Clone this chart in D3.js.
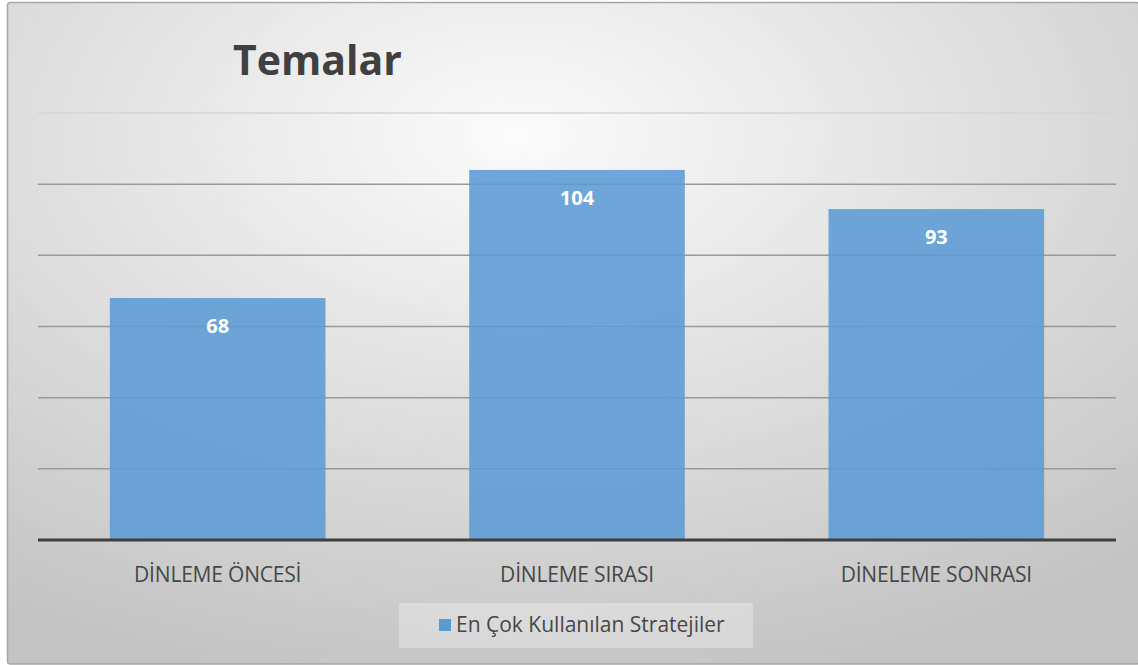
<!DOCTYPE html>
<html>
<head>
<meta charset="utf-8">
<script src="https://cdn.jsdelivr.net/npm/d3@7"></script>
<style>
  body { margin: 0; background: #fff; }
  svg { display: block; }
  text { font-family: "Open Sans", "Noto Sans", sans-serif; }
</style>
</head>
<body>
<svg id="chart" width="1138" height="665"></svg>
<script>
var categories = ['DİNLEME ÖNCESİ', 'DİNLEME SIRASI', 'DİNELEME SONRASI'],
    values = [68, 104, 93],
    yTicks = [0, 20, 40, 60, 80, 100, 120],
    seriesName = 'En Çok Kullanılan Stratejiler',
    title = 'Temalar';

var W = 1138, H = 665,
    margin = { left: 38, right: 22, top: 113, bottom: 125 },
    BAR_COLOR = '#5b9bd5';

var svg = d3.select('#chart');

// background, radial like the office chart style
var defs = svg.append('defs'),
    grad = defs.append('radialGradient')
      .attr('id', 'bg')
      .attr('cx', '45%').attr('cy', '20%').attr('r', '85%');
grad.append('stop').attr('offset', '0%').attr('stop-color', '#fbfbfb');
grad.append('stop').attr('offset', '100%').attr('stop-color', '#c3c3c3');

svg.append('rect')
  .attr('x', 7.5).attr('y', 2.5)
  .attr('width', W - 6).attr('height', H - 3.5)
  .attr('rx', 3)
  .attr('fill', 'url(#bg)')
  .attr('stroke', '#a6a6a6')
  .attr('stroke-width', 1.5);

var x = d3.scaleBand()
      .domain(categories)
      .range([margin.left, W - margin.right])
      .paddingInner(0.4)
      .paddingOuter(0.2),

    y = d3.scaleLinear()
      .domain([0, 120])
      .range([H - margin.bottom, margin.top]);

// gridlines
svg.append('g')
  .selectAll('line')
  .data(yTicks.slice(1))
  .enter().append('line')
    .attr('x1', margin.left)
    .attr('x2', W - margin.right)
    .attr('y1', function(d) { return y(d); })
    .attr('y2', function(d) { return y(d); })
    .attr('stroke', function(d) { return d === 120 ? '#d4d4d4' : '#9a9a9a'; })
    .attr('stroke-width', 1.5);

// bars (a bit see-through, gridlines show faintly)
svg.append('g')
  .selectAll('rect')
  .data(values)
  .enter().append('rect')
    .attr('x', function(d, i) { return x(categories[i]); })
    .attr('y', function(d) { return y(d); })
    .attr('width', x.bandwidth())
    .attr('height', function(d) { return y(0) - y(d); })
    .attr('fill', BAR_COLOR)
    .attr('fill-opacity', 0.88);

// baseline
svg.append('line')
  .attr('x1', margin.left)
  .attr('x2', W - margin.right)
  .attr('y1', y(0))
  .attr('y2', y(0))
  .attr('stroke', '#3f3f3f')
  .attr('stroke-width', 3);

// value labels
svg.append('g')
  .selectAll('text')
  .data(values)
  .enter().append('text')
    .attr('x', function(d, i) { return x(categories[i]) + x.bandwidth() / 2; })
    .attr('y', function(d) { return y(d) + 35; })
    .attr('text-anchor', 'middle')
    .attr('font-size', 20)
    .attr('font-weight', 'bold')
    .attr('fill', '#ffffff')
    .text(function(d) { return d; });

// category labels
svg.append('g')
  .selectAll('text')
  .data(categories)
  .enter().append('text')
    .attr('x', function(d) { return x(d) + x.bandwidth() / 2; })
    .attr('y', y(0) + 42)
    .attr('text-anchor', 'middle')
    .attr('font-size', 21)
    .attr('fill', '#474747')
    .attr('letter-spacing', -0.2)
    .text(function(d) { return d; });

// title
svg.append('text')
  .attr('x', 233)
  .attr('y', 75)
  .attr('font-size', 41)
  .attr('font-weight', 'bold')
  .attr('fill', '#404040')
  .text(title);

// legend
var legend = svg.append('g').attr('transform', 'translate(399,603)');
legend.append('rect')
  .attr('width', 354).attr('height', 45)
  .attr('fill', '#ffffff').attr('fill-opacity', 0.3);
legend.append('rect')
  .attr('x', 40).attr('y', 16)
  .attr('width', 12).attr('height', 12)
  .attr('fill', BAR_COLOR);
legend.append('text')
  .attr('x', 57).attr('y', 29)
  .attr('font-size', 21)
  .attr('fill', '#474747')
  .text(seriesName);
</script>
</body>
</html>
